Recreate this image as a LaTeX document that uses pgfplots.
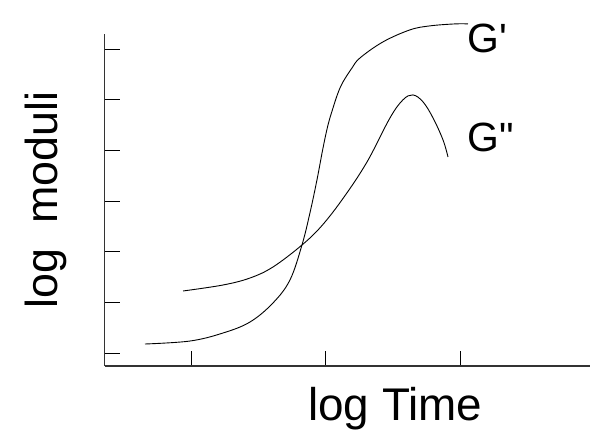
\documentclass[border=0pt]{standalone}
\usepackage{fontspec}
\setmainfont{Liberation Sans}
\newfontfamily\lbl{Liberation Sans}
\usepackage{pgfplots}
\pgfplotsset{compat=1.18}

\begin{document}
\begin{tikzpicture}
\useasboundingbox (0,0) rectangle (592bp,430bp);
\begin{axis}[
  at={(104.5bp,64bp)}, anchor=south west,
  scale only axis, width=485.5bp, height=332bp,
  xmin=0.359, xmax=3.956, ymin=-0.25, ymax=6.30,
  axis x line=bottom, axis y line=left,
  axis line style={-, line width=1.2bp, black!80},
  xtick={1,2,3}, ytick={0,1,2,3,4,5,6},
  xticklabels={}, yticklabels={},
  major tick length=15bp, tick align=inside,
  tick style={black, line width=1bp},
  clip=false,
  xlabel={log Time},
  xlabel style={at={(axis description cs:0.599,-0.163)}, anchor=base,
    font=\fontsize{46}{50}\selectfont},
  ylabel={log\hspace{0.28em} moduli},
  ylabel style={at={(axis description cs:-0.0968,0.5)}, anchor=base,
    font=\fontsize{45}{50}\selectfont},
]
% G' (storage modulus)
\addplot[black, line width=0.9bp, smooth, tension=0.6] coordinates {
  (0.659,0.184) (0.993,0.243) (1.237,0.401) (1.437,0.618) (1.607,0.993)
  (1.733,1.447) (1.822,2.137) (1.881,2.769) (1.933,3.420) (1.978,4.052)
  (2.015,4.506) (2.052,4.841) (2.089,5.137) (2.126,5.354) (2.193,5.631)
  (2.252,5.828) (2.422,6.144) (2.622,6.381)
  (2.770,6.460) (2.956,6.499) (3.052,6.499)
};
% G'' (loss modulus)
\addplot[black, line width=0.9bp, smooth, tension=0.6] coordinates {
  (0.941,1.230) (1.237,1.348) (1.437,1.486) (1.607,1.703) (1.822,2.137)
  (1.970,2.520) (2.130,3.070) (2.304,3.776) (2.474,4.644)
  (2.570,5.000) (2.644,5.098) (2.719,4.960) (2.793,4.644) (2.867,4.210)
  (2.904,3.874)
};
\node[anchor=base west, inner sep=0pt, font=\lbl\fontsize{41}{44}\selectfont]
  at (axis cs:3.05,5.93) {G'};
\node[anchor=base west, inner sep=0pt, font=\lbl\fontsize{41}{44}\selectfont]
  at (axis cs:3.05,3.98) {G"};
\end{axis}
\end{tikzpicture}
\end{document}
